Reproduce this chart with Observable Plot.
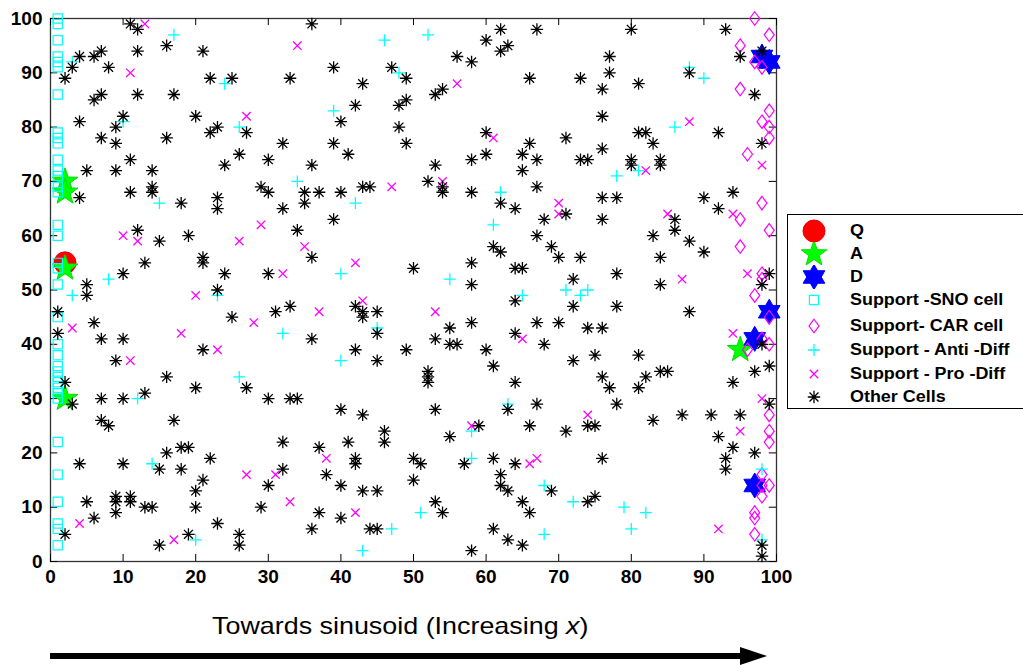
<!DOCTYPE html>
<html><head><meta charset="utf-8">
<script src="https://cdn.jsdelivr.net/npm/d3@7"></script>
<script src="https://cdn.jsdelivr.net/npm/@observablehq/plot@0.6"></script>
<style>
body{margin:0;background:#fff;font-family:"Liberation Sans",Arial,sans-serif;}
#wrap{position:relative;width:1023px;height:665px;overflow:hidden;}
#chart{position:absolute;left:0;top:0;}
#legend{position:absolute;left:787px;top:214px;width:260px;height:195px;border:1px solid #000;background:#fff;box-sizing:border-box;}
.li{position:absolute;left:0;height:24px;display:flex;align-items:center;font-weight:bold;font-size:16px;color:#000;white-space:nowrap;}
.li svg{width:50px;height:24px;flex:none;}
.li span{margin-left:12px;display:inline-block;transform:scaleX(1.12);transform-origin:left center;}
#caption{position:absolute;left:212px;top:612px;font-size:24px;color:#000;white-space:nowrap;transform:scaleX(1.12);transform-origin:left center;}
#arrow{position:absolute;left:0;top:640px;}
</style></head>
<body><div id="wrap"><div id="chart"></div><div id="legend"></div>
<div id="caption">Towards sinusoid (Increasing <i>x</i>)</div>
<svg id="arrow" width="1023" height="25"><line x1="50" y1="16" x2="745" y2="16" stroke="#000" stroke-width="6"/><path d="M740,7 L767,16 L740,25 Z" fill="#000"/></svg>
</div>
<script>
const ticks = [0,10,20,30,40,50,60,70,80,90,100];
const legendLabels = ["Q","A","D","Support -SNO cell","Support- CAR cell","Support - Anti -Diff","Support - Pro -Diff","Other Cells"];

const qCells = [[2,55]];
const aCells = [[2,70],[2,68],[2,54],[2,30],[95,39]];
const dCells = [[98,93],[99,92],[99,46],[97,41],[97,14]];
const snoCells = [[1,100],[1,99],[1,96],[1,93],[1,92],[1,91],[1,86],[1,79],[1,78],[1,77],[1,74],[1,72],[1,71],[1,69],[1,68],[1,62],[1,60],[1,55],[1,54],[1,51],[1,45],[1,40],[1,38],[1,36],[1,35],[1,34],[1,33],[1,32],[1,31],[1,30],[1,22],[1,16],[1,11],[1,7],[1,6],[1,3]];
const carCells = [[97,100],[99,97],[95,95],[97,92],[98,91],[95,87],[99,83],[98,81],[99,80],[99,78],[96,75],[98,66],[95,63],[99,61],[95,58],[98,53],[98,52],[97,49],[99,45],[98,41],[99,40],[96,39],[99,27],[99,24],[99,22],[98,16],[98,14],[98,12],[99,14],[97,9],[97,8],[97,5]];
const antiDiff = [[17,97],[3,92],[52,97],[46,96],[24,88],[48,90],[39,83],[26,80],[10,81],[34,70],[15,66],[42,66],[62,68],[88,91],[90,89],[86,80],[81,72],[78,71],[61,62],[40,53],[8,52],[3,49],[23,49],[55,52],[71,50],[73,49],[74,50],[65,49],[45,43],[32,42],[40,37],[26,34],[12,30],[14,18],[20,4],[47,6],[43,2],[63,29],[58,24],[58,19],[68,14],[51,9],[72,11],[68,5],[79,10],[82,9],[80,6],[98,17],[98,4]];
const proDiff = [[13,99],[11,90],[34,95],[56,88],[27,82],[61,78],[47,69],[54,70],[70,66],[70,64],[88,81],[82,72],[98,73],[10,60],[12,59],[29,62],[26,59],[35,58],[42,55],[32,53],[20,49],[43,48],[37,46],[28,44],[3,43],[18,42],[23,39],[11,37],[53,46],[65,41],[85,64],[94,64],[87,52],[96,53],[94,42],[58,25],[74,27],[66,18],[67,19],[38,19],[27,16],[31,16],[33,11],[42,9],[4,7],[17,4],[92,6],[98,30],[95,24]];
const otherCells = [
[11,99],[12,98],[16,95],[21,94],[12,94],[7,94],[6,93],[4,93],[3,91],[8,91],[2,89],[22,89],[25,89],[7,86],[6,85],[12,86],[17,86],[4,81],[10,82],[9,80],[20,82],[23,80],[22,79],[7,78],[9,77],[16,78],[11,74],[5,72],[9,72],[14,72],[24,73],[4,67],[11,68],[14,69],[14,68],[23,67],[18,66],
[36,99],[39,91],[47,91],[49,89],[33,89],[43,88],[49,85],[42,84],[48,84],[40,81],[27,79],[48,80],[32,77],[39,77],[49,77],[26,75],[30,74],[41,75],[36,73],[29,69],[30,68],[35,68],[37,68],[40,68],[43,69],[44,69],[35,66],
[62,98],[67,98],[60,96],[63,95],[62,94],[56,93],[58,92],[66,89],[73,89],[54,87],[53,86],[60,79],[66,77],[71,78],[60,75],[65,75],[67,74],[58,74],[73,74],[74,74],[53,73],[65,72],[52,70],[54,69],[54,68],[58,68],[67,69],[62,66],
[80,98],[93,98],[95,93],[98,94],[77,93],[77,90],[76,87],[81,88],[88,90],[97,86],[76,82],[98,77],[81,79],[82,79],[83,77],[92,79],[76,76],[80,74],[80,73],[84,74],[84,73],[76,67],[78,67],[90,67],[94,68],
[23,65],[12,61],[15,59],[19,60],[13,55],[21,56],[21,55],[24,53],[10,53],[5,51],[5,49],[23,50],[1,46],[25,45],[6,44],[1,42],[7,41],[10,41],[21,39],[9,37],[16,34],[2,33],
[32,65],[39,63],[34,61],[36,56],[30,53],[50,54],[42,47],[43,46],[43,45],[45,46],[33,47],[31,46],[45,42],[36,41],[42,39],[49,39],[45,37],
[64,65],[71,64],[68,63],[76,63],[67,60],[61,58],[62,57],[69,58],[70,56],[73,56],[58,55],[64,54],[65,54],[58,51],[72,52],[72,47],[64,48],[58,44],[55,43],[67,44],[70,44],[74,43],[76,43],[53,41],[55,40],[56,40],[64,42],[68,40],[60,39],[75,38],[72,37],[61,36],[52,35],[52,34],[52,33],[64,33],[76,34],
[92,65],[86,63],[86,61],[83,60],[88,59],[90,57],[84,56],[78,53],[84,51],[99,53],[98,51],[78,47],[88,46],[98,40],[81,38],[99,36],[97,35],[82,34],[84,35],[85,35],[94,33],
[3,29],[7,30],[10,30],[13,31],[20,32],[7,26],[8,25],[17,26],[16,20],[18,21],[19,21],[22,19],[4,18],[10,18],[15,17],[18,17],[21,15],[20,13],[5,11],[9,12],[9,11],[9,9],[11,12],[11,11],[13,10],[14,10],[20,10],[6,8],[2,5],[23,7],[19,5],[15,3],
[27,32],[30,30],[33,30],[34,30],[40,28],[43,27],[46,24],[46,22],[32,22],[37,21],[41,22],[42,19],[42,18],[32,17],[30,14],[38,16],[40,14],[43,13],[45,13],[50,19],[50,15],[29,10],[37,9],[40,8],[36,6],[44,6],[45,6],[26,5],[26,3],
[63,28],[67,29],[53,28],[59,25],[55,23],[66,25],[74,25],[75,25],[71,24],[51,18],[57,18],[61,19],[64,18],[62,16],[62,14],[63,13],[69,13],[65,11],[66,9],[53,11],[54,9],[74,11],[75,12],[61,6],[63,4],[65,3],[58,2],
[77,32],[81,32],[78,29],[99,29],[83,26],[87,27],[91,27],[95,27],[92,23],[94,21],[97,20],[93,19],[93,17],[76,19],[98,3],[98,1]
];

// custom marker shapes (MATLAB-like)
const rad = s => Math.sqrt(s / Math.PI);
const symAsterisk = {draw(c, s){const r = rad(s), d = r*0.72;
  c.moveTo(0,-r);c.lineTo(0,r);c.moveTo(-r,0);c.lineTo(r,0);
  c.moveTo(-d,-d);c.lineTo(d,d);c.moveTo(-d,d);c.lineTo(d,-d);}};
const symPlus = {draw(c, s){const r = rad(s); c.moveTo(0,-r);c.lineTo(0,r);c.moveTo(-r,0);c.lineTo(r,0);}};
const symTimes = {draw(c, s){const r = rad(s); c.moveTo(-r,-r);c.lineTo(r,r);c.moveTo(-r,r);c.lineTo(r,-r);}};
const symSquare = {draw(c, s){const r = rad(s); c.rect(-r,-r,2*r,2*r);}};
const symDiamond = {draw(c, s){const r = rad(s); c.moveTo(0,-1.35*r);c.lineTo(r,0);c.lineTo(0,1.35*r);c.lineTo(-r,0);c.closePath();}};
const symCircle = {draw(c, s){const r = rad(s); c.moveTo(r,0); c.arc(0,0,r,0,2*Math.PI);}};
function starSym(n, ratio){return {draw(c, s){const R = rad(s), ri = R*ratio;
  for(let i=0;i<2*n;i++){const a = -Math.PI/2 + i*Math.PI/n, rr = i%2 ? ri : R;
    const x = rr*Math.cos(a), y = rr*Math.sin(a); if(i===0) c.moveTo(x,y); else c.lineTo(x,y);}
  c.closePath();}};}
const symPenta = starSym(5, 0.40);
const symHexa = starSym(6, 0.58);

const styles = [
  {data:qCells, symbol:symCircle, r:11, fill:"#ff0000", stroke:"#ee0000", strokeWidth:1},
  {data:aCells, symbol:symPenta, r:13.5, fill:"#00ff00", stroke:"#00e000", strokeWidth:1},
  {data:dCells, symbol:symHexa, r:12.5, fill:"#0000ff", stroke:"#0000ff", strokeWidth:1},
  {data:snoCells, symbol:symSquare, r:4.6, fill:"none", stroke:"#00ffff", strokeWidth:1.2},
  {data:carCells, symbol:symDiamond, r:5, fill:"none", stroke:"#ff00ff", strokeWidth:1.2},
  {data:antiDiff, symbol:symPlus, r:6, fill:"none", stroke:"#00ffff", strokeWidth:1.3},
  {data:proDiff, symbol:symTimes, r:4.2, fill:"none", stroke:"#ff00ff", strokeWidth:1.3},
  {data:otherCells, symbol:symAsterisk, r:6.2, fill:"none", stroke:"#000000", strokeWidth:1.3}
];

const chart = Plot.plot({
  width: 800, height: 600,
  marginLeft: 50, marginRight: 24, marginTop: 18, marginBottom: 39,
  x: {domain:[0,100]}, y: {domain:[0,100]},
  style: {fontFamily:'"Liberation Sans", Arial, sans-serif', fontSize:"19px", fontWeight:"bold", color:"#000", background:"transparent"},
  marks: [
    Plot.frame({stroke:"#333", strokeWidth:1.3}),
    Plot.ruleX(ticks, {x:d=>d, y1:0, y2:1.3, stroke:"#000"}),
    Plot.ruleX(ticks, {x:d=>d, y1:100, y2:98.7, stroke:"#000"}),
    Plot.ruleY(ticks, {y:d=>d, x1:0, x2:1, stroke:"#000"}),
    Plot.ruleY(ticks, {y:d=>d, x1:100, x2:99, stroke:"#000"}),
    Plot.axisX({ticks, tickSize:0, tickPadding:8, label:null, fill:"#000"}),
    Plot.axisY({ticks, tickSize:0, tickPadding:8, label:null, fill:"#000"}),
    ...styles.map(st => Plot.dot(st.data, {x:d=>d[0], y:d=>d[1], symbol:st.symbol, r:st.r, fill:st.fill, stroke:st.stroke, strokeWidth:st.strokeWidth}))
  ]
});
document.getElementById("chart").appendChild(chart);

// legend
const legendTops = [231,254,277,300,326,350,374,397];
const legend = document.getElementById("legend");
styles.forEach((st, i) => {
  const row = document.createElement("div");
  row.className = "li";
  row.style.top = (legendTops[i] - 214 - 1 - 12) + "px";
  const p = d3.path();
  st.symbol.draw(p, st.r*st.r*Math.PI);
  const svg = d3.create("svg").attr("width",50).attr("height",24);
  svg.append("path").attr("transform","translate(26,12)").attr("d", p.toString())
    .attr("fill", st.fill).attr("stroke", st.stroke).attr("stroke-width", st.strokeWidth);
  row.appendChild(svg.node());
  const sp = document.createElement("span");
  sp.textContent = legendLabels[i];
  row.appendChild(sp);
  legend.appendChild(row);
});
</script>
</body></html>
